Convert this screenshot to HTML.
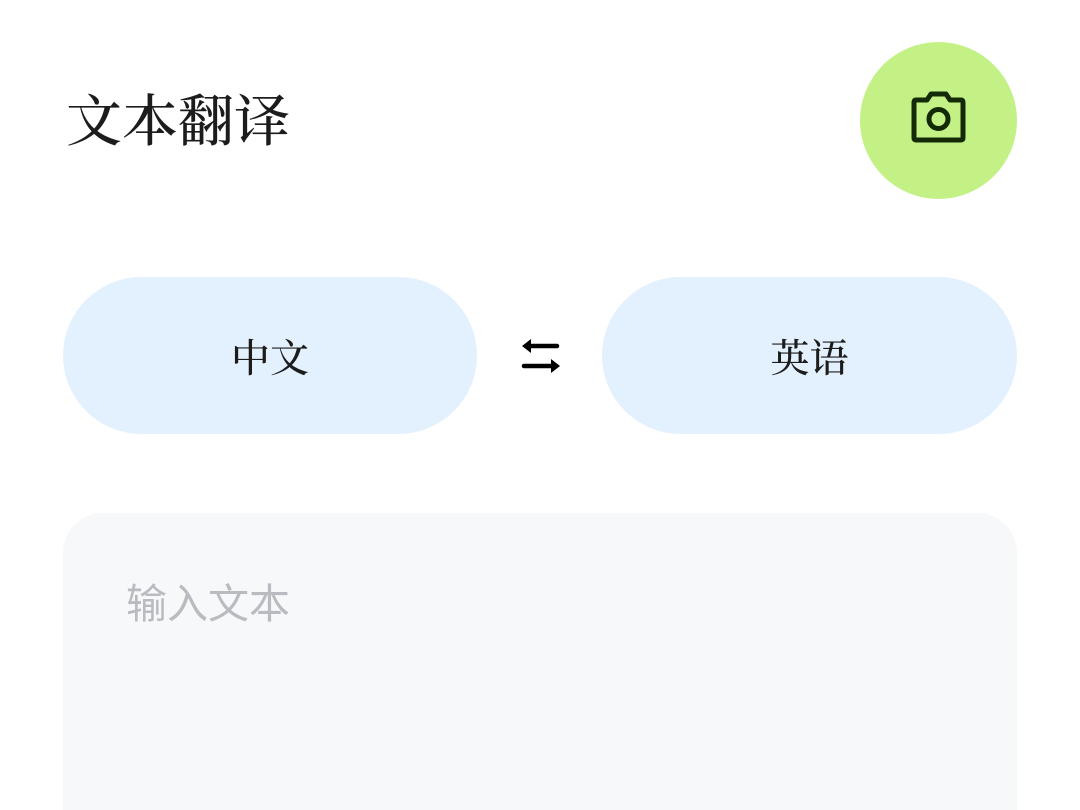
<!DOCTYPE html>
<html><head><meta charset="utf-8"><style>
html,body{margin:0;width:1080px;height:810px;background:#fff;overflow:hidden;position:relative;font-family:"Liberation Sans","Noto Sans CJK SC",sans-serif;}
.t{position:absolute;left:66px;top:90px;font-size:56px;color:#1c1c1c;line-height:66px;font-weight:500;font-family:"Liberation Serif","Noto Serif CJK SC",serif;}
.cam{position:absolute;left:860px;top:42px;width:157px;height:157px;border-radius:50%;background:#c3f185;}
.btn{position:absolute;top:277px;height:157px;border-radius:79px;background:#e3f0fd;display:flex;align-items:center;justify-content:center;font-size:39px;color:#1c1c1c;font-weight:500;font-family:"Liberation Serif","Noto Serif CJK SC",serif;}
.box{position:absolute;left:63px;top:513px;width:954px;height:297px;border-radius:40px 40px 0 0;background:#f7f8fa;}
.ph{position:absolute;left:126px;top:580px;font-size:41px;color:#b9bbc0;line-height:48px;}
</style></head><body>
<div class="t">文本翻译</div>
<div class="cam"><svg width="157" height="157" viewBox="0 0 157 157">
<path d="M56 58 H67 L71 52 H86 L90 58 H101 Q103 58 103 60 V96 Q103 98 101 98 H56 Q54 98 54 96 V60 Q54 58 56 58 Z" fill="none" stroke="#142a06" stroke-width="5" stroke-linejoin="round"/>
<circle cx="78.5" cy="77" r="9.5" fill="none" stroke="#142a06" stroke-width="5"/></svg></div>
<div class="btn" style="left:63px;width:414px">中文</div>
<div class="btn" style="left:602px;width:415px">英语</div>
<svg style="position:absolute;left:518px;top:335px" width="46" height="42" viewBox="0 0 46 42">
<path d="M12 11 H39" stroke="#000" stroke-width="4.5" stroke-linecap="round"/><path d="M4 11 L13 4 V18 Z" fill="#000"/>
<path d="M6 31 H33" stroke="#000" stroke-width="4.5" stroke-linecap="round"/><path d="M42 31 L33 24 V38 Z" fill="#000"/>
</svg>
<div class="box"></div>
<div class="ph">输入文本</div>
</body></html>
